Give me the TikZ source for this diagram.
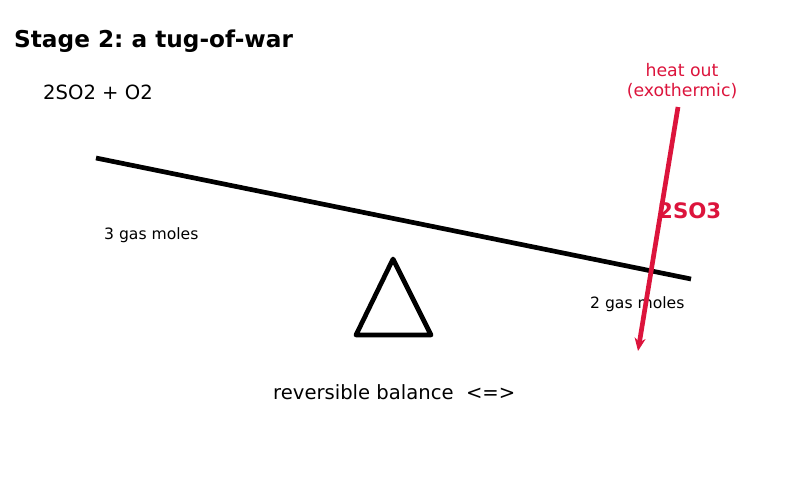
\documentclass[tikz,border=0pt]{standalone}
\usepackage{fontspec}
\setmainfont{DejaVu Sans}
\usetikzlibrary{arrows.meta}
\definecolor{crim}{HTML}{DC143C}
\frenchspacing
\begin{document}
\begin{tikzpicture}[x=1pt,y=-1pt,
  lbl/.style={inner sep=0pt,font=\fontsize{15.6}{18}\selectfont},
  big/.style={inner sep=0pt,font=\fontsize{19.6}{23}\selectfont},
  thick4/.style={line width=4.7pt}]
\useasboundingbox (0,0) rectangle (787,480);
\node[inner sep=0pt,anchor=west,font=\fontsize{23.2}{27}\selectfont\bfseries] (title) at (14,41) {Stage 2: a tug-of-war};
\node[big,anchor=west] (react) at (43,92) {2SO2 + O2};
\coordinate (bl) at (96,158);
\coordinate (br) at (691,279);
\draw[thick4] (bl) -- (br);
\coordinate (apex) at (393,259);
\coordinate (b1) at (356,335);
\coordinate (b2) at (431,335);
\draw[thick4,line join=round,line cap=round] (apex) -- (b2) -- (b1) -- cycle;
\node[lbl,anchor=west] (l3) at (104,235) {3 gas moles};
\node[lbl,anchor=west] (l2) at (590,304) {2 gas moles};
\node[inner sep=0pt,anchor=west,text=crim,font=\fontsize{21.3}{25}\selectfont\bfseries] (prod) at (658,211) {2SO3};
\node[inner sep=0pt,align=center,text=crim,font=\fontsize{17.3}{20}\selectfont] (heat) at (682,81.5) {heat out\\(exothermic)};
\coordinate (hs) at (678,107);
\coordinate (he) at (638,351);
\draw[crim,line width=4.7pt,-{Stealth[length=13pt,width=11pt]}] (hs) -- (he);
\node[big,anchor=west] (rev) at (273,392) {reversible balance~~<=>};
\end{tikzpicture}
\end{document}
